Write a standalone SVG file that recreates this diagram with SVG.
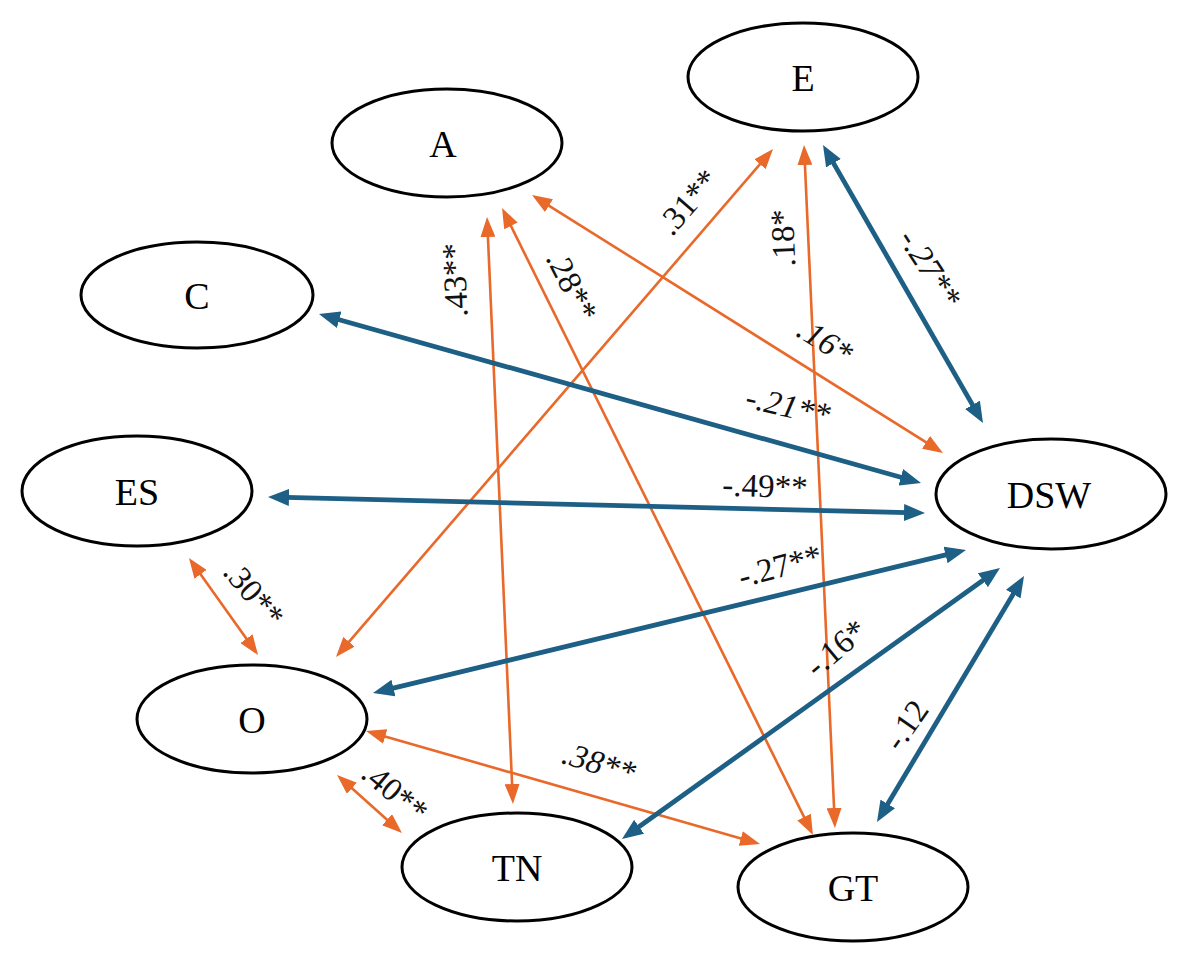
<svg xmlns="http://www.w3.org/2000/svg" width="1181" height="966" viewBox="0 0 1181 966">
<style>
.node ellipse{fill:#fff;stroke:#000;stroke-width:3}
.node text{font-family:"Liberation Serif","Times New Roman",serif;font-size:38px;text-anchor:middle;fill:#000}
.o{stroke:#E8692A;stroke-width:2.6;fill:none;marker-start:url(#ao);marker-end:url(#ao)}
.b{stroke:#1D5F85;stroke-width:4.8;fill:none;marker-start:url(#ab);marker-end:url(#ab)}
.lbl{font-family:"Liberation Serif","Times New Roman",serif;font-size:33px;text-anchor:middle;dominant-baseline:central;fill:#111}
.it{font-style:italic}
</style>
<defs>
<marker id="ao" markerUnits="userSpaceOnUse" viewBox="0 0 20 15" markerWidth="20" markerHeight="15" refX="12" refY="7.5" orient="auto-start-reverse"><path d="M0,0 L20,7.5 L0,15 z" fill="#E8692A"/></marker>
<marker id="ab" markerUnits="userSpaceOnUse" viewBox="0 0 21 17" markerWidth="21" markerHeight="17" refX="13" refY="8.5" orient="auto-start-reverse"><path d="M0,0 L21,8.5 L0,17 z" fill="#1D5F85"/></marker>
</defs>
<rect width="1181" height="966" fill="#fff"/>
<g id="connectors">
<line class="o" x1="538.8" y1="199.3" x2="936.2" y2="448.7"/>
<line class="o" x1="767.8" y1="155.1" x2="341.2" y2="650.9"/>
<line class="o" x1="487.4" y1="225" x2="512.6" y2="796"/>
<line class="o" x1="505.6" y1="215.2" x2="809.4" y2="827.8"/>
<line class="o" x1="804.4" y1="153" x2="834.6" y2="820"/>
<line class="o" x1="193.6" y1="564.5" x2="253.4" y2="648.5"/>
<line class="o" x1="343" y1="780.3" x2="396" y2="827.7"/>
<line class="o" x1="373.7" y1="733.2" x2="752.3" y2="841.8"/>
<line class="b" x1="827" y1="151.9" x2="979" y2="416.1"/>
<line class="b" x1="326.7" y1="316.2" x2="913.3" y2="480.8"/>
<line class="b" x1="276" y1="497.2" x2="917" y2="512.8"/>
<line class="b" x1="380.8" y1="691.1" x2="958.2" y2="551.9"/>
<line class="b" x1="628.5" y1="834.3" x2="993.5" y2="572.7"/>
<line class="b" x1="881.1" y1="815.1" x2="1019.9" y2="582.9"/>
</g>
<g id="labels">
<text class="lbl" transform="translate(455,280) rotate(-92.5)">.43**</text>
<text class="lbl" transform="translate(572,286) rotate(63)">.28**</text>
<text class="lbl" transform="translate(688,202) rotate(-49)">.31**</text>
<text class="lbl" transform="translate(783,238) rotate(-92.5)">.18*</text>
<text class="lbl it" transform="translate(825,341) rotate(32)">.16*</text>
<text class="lbl it" transform="translate(930,268) rotate(57)">-.27**</text>
<text class="lbl it" transform="translate(788,406) rotate(13)">-.21**</text>
<text class="lbl" transform="translate(765,486) rotate(2)">-.49**</text>
<text class="lbl" transform="translate(780,566) rotate(-15)">-.27**</text>
<text class="lbl" transform="translate(836,648) rotate(-40)">-.16*</text>
<text class="lbl" transform="translate(906,725) rotate(-55)">-.12</text>
<text class="lbl it" transform="translate(599,763) rotate(17)">.38**</text>
<text class="lbl" transform="translate(254,594) rotate(50)">.30**</text>
<text class="lbl" transform="translate(395,792) rotate(40)">.40**</text>
</g>
<g id="node-E" class="node"><ellipse cx="803" cy="77" rx="115" ry="54"/><text x="803" y="91">E</text></g>
<g id="node-A" class="node"><ellipse cx="447" cy="143" rx="115" ry="54"/><text x="443" y="157">A</text></g>
<g id="node-C" class="node"><ellipse cx="197" cy="295" rx="116" ry="53"/><text x="197" y="309">C</text></g>
<g id="node-ES" class="node"><ellipse cx="137" cy="491" rx="115" ry="55"/><text x="137" y="505">ES</text></g>
<g id="node-DSW" class="node"><ellipse cx="1051" cy="494" rx="115" ry="55"/><text x="1049" y="508">DSW</text></g>
<g id="node-O" class="node"><ellipse cx="252" cy="719" rx="115" ry="54"/><text x="252" y="733">O</text></g>
<g id="node-TN" class="node"><ellipse cx="517" cy="867" rx="115" ry="54"/><text x="517" y="881">TN</text></g>
<g id="node-GT" class="node"><ellipse cx="853" cy="887" rx="115" ry="54"/><text x="853" y="901">GT</text></g>
</svg>
